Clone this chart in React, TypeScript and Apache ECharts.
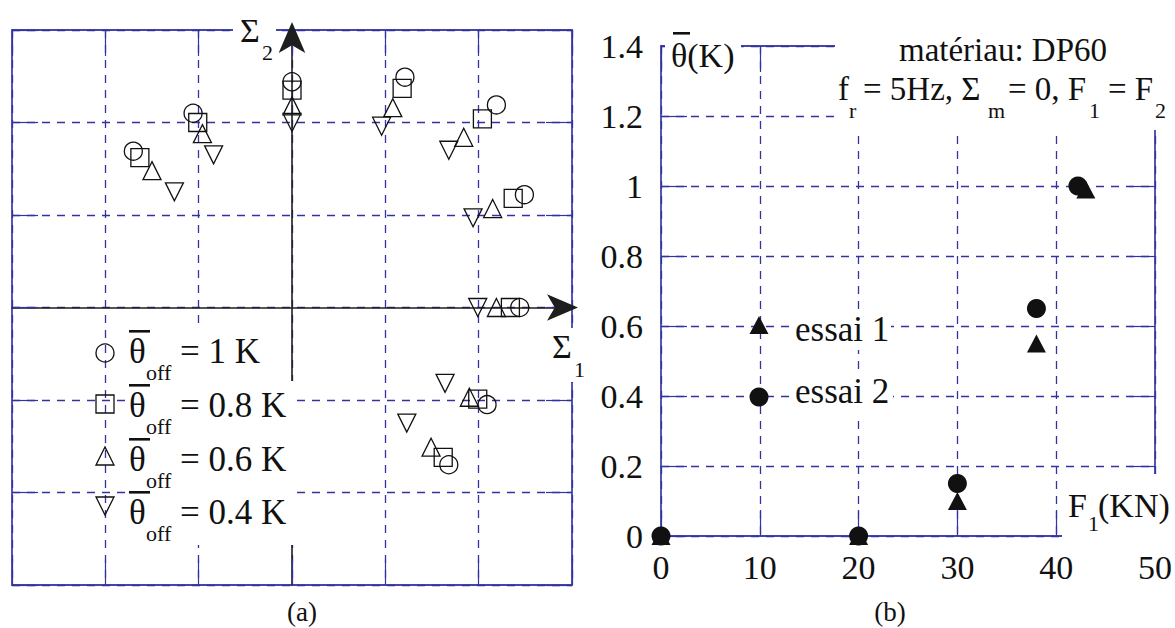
import React, { useEffect, useRef } from 'react';
import * as echarts from 'echarts';

// ---- Panel (a): loading directions in the (Σ1, Σ2) plane, one series per offset temperature ----
const off10X = [-1.70, -1.06, 0, 1.21, 2.19, 2.49, 2.44, 2.09, 1.68];
const off10Y = [1.69, 2.10, 2.44, 2.49, 2.19, 1.22, 0, -1.05, -1.70];
const off08X = [-1.63, -1.01, 0, 1.18, 2.04, 2.37, 2.34, 1.99, 1.62];
const off08Y = [1.62, 2.00, 2.35, 2.37, 2.04, 1.18, 0, -0.99, -1.62];
const off06X = [-1.50, -0.96, 0, 1.08, 1.84, 2.15, 2.19, 1.90, 1.49];
const off06Y = [1.48, 1.88, 2.18, 2.16, 1.84, 1.07, 0, -0.97, -1.51];
const off04X = [-1.26, -0.84, 0, 0.96, 1.68, 1.94, 1.99, 1.64, 1.23];
const off04Y = [1.25, 1.65, 2.00, 1.96, 1.70, 0.97, 0, -0.82, -1.25];
const offsetLabels = ['= 1 K', '= 0.8 K', '= 0.6 K', '= 0.4 K'];

// ---- Panel (b): mean temperature rise vs. force amplitude ----
const essai1F = [0, 20, 30, 38, 43];
const essai1Theta = [0, 0, 0.1, 0.55, 0.99];
const essai2F = [0, 20, 30, 38, 42.2];
const essai2Theta = [0, 0, 0.15, 0.65, 1.0];

const FONT = "'Liberation Serif', 'Times New Roman', serif";
const BLUE = '#3232a2';
const BORDER = '#4444ac';
const INK = '#111111';
const AXIS_INK = '#1e1e1e';

const zip = (xs: number[], ys: number[]) => xs.map((x, i) => [x, ys[i]]);

function frameAxis(
  dim: 'x' | 'y',
  gridIndex: number,
  position: string,
  min: number,
  max: number,
  interval: number,
  main: boolean
) {
  return {
    type: 'value',
    gridIndex,
    position,
    min,
    max,
    interval,
    axisLine: { show: false, onZero: false },
    axisTick: { show: true, inside: true, length: 26, lineStyle: { color: BLUE, width: 1.2 } },
    axisLabel: {
      show: main && gridIndex === 1,
      fontFamily: FONT,
      fontSize: 34,
      color: INK,
      margin: dim === 'y' ? 18 : 14,
    },
    splitLine: {
      show: main,
      lineStyle: { color: BLUE, width: 1.3, type: [8, 7] },
    },
  };
}

// Σ1 / Σ2 axes of panel (a): drawn through the origin, ending in an arrow
function sigmaAxis(position: string, arrowOffset: number) {
  return {
    type: 'value',
    gridIndex: 0,
    position,
    min: -3,
    max: 3,
    interval: 1,
    axisLine: {
      show: true,
      onZero: true,
      onZeroAxisIndex: 0,
      symbol: ['none', 'arrow'],
      symbolSize: [20, 31],
      symbolOffset: [0, arrowOffset],
      lineStyle: { color: AXIS_INK, width: 1.6 },
    },
    axisTick: { show: false },
    axisLabel: { show: false },
    splitLine: { show: false },
  };
}

function txt(text: string, x: number, baseline: number, size: number, align = 'left') {
  return {
    type: 'text',
    z: 110,
    x,
    y: baseline - 0.34 * size,
    style: { text, font: `${size}px ${FONT}`, fill: INK, align, verticalAlign: 'middle' },
  };
}

function white(x: number, y: number, width: number, height: number) {
  return { type: 'rect', z: 100, shape: { x, y, width, height }, style: { fill: '#ffffff' } };
}

function bar(x: number, y: number, width: number) {
  return { type: 'rect', z: 111, shape: { x, y, width, height: 2.6 }, style: { fill: INK } };
}

const hollow = { color: 'rgba(0,0,0,0)', borderColor: INK, borderWidth: 1.3, opacity: 1 };
const solid = { color: INK, opacity: 1 };
const hollowStyle = { fill: 'none', stroke: INK, lineWidth: 1.3 };

function buildOption() {
  const graphics: any[] = [];

  // Σ axis captions of panel (a)
  graphics.push(white(233, 12, 43, 50));
  graphics.push(txt('Σ', 240, 42, 34));
  graphics.push(txt('2', 262, 60, 22));
  graphics.push(white(548, 328, 36, 54));
  graphics.push(txt('Σ', 552, 358, 34));
  graphics.push(txt('1', 574, 377, 22));

  // legend of panel (a)
  const rows = [363, 417, 471, 524];
  const rights = [268, 297, 297, 297];
  rows.forEach((b, i) => {
    graphics.push(white(125, b - 36, rights[i] - 125, 57));
  });
  rows.forEach((b, i) => {
    graphics.push(bar(129, b - 33, 21));
    graphics.push(txt('θ', 129, b, 35));
    graphics.push(txt('off', 146, b + 17, 22));
    graphics.push(txt(offsetLabels[i], 180, b, 35));
  });
  const lx = 105;
  graphics.push({ type: 'circle', z: 111, shape: { cx: lx, cy: 353, r: 9 }, style: hollowStyle });
  graphics.push({ type: 'rect', z: 111, shape: { x: lx - 9, y: 395, width: 18, height: 18 }, style: hollowStyle });
  graphics.push({
    type: 'polygon', z: 111,
    shape: { points: [[lx - 9, 465], [lx, 447], [lx + 9, 465]] },
    style: hollowStyle,
  });
  graphics.push({
    type: 'polygon', z: 111,
    shape: { points: [[lx - 9, 497], [lx + 9, 497], [lx, 515]] },
    style: hollowStyle,
  });

  // panel (b) captions
  graphics.push(white(665, 24, 76, 52));
  graphics.push(bar(673, 32, 17));
  graphics.push(txt('θ(K)', 671, 67, 34));

  graphics.push(white(835, 16, 340, 114));
  graphics.push(txt('matériau: DP60', 1003, 61, 33, 'center'));
  graphics.push(txt('f', 838, 100, 33));
  graphics.push(txt('r', 849, 118, 22));
  graphics.push(txt('= 5Hz, Σ', 863, 100, 33));
  graphics.push(txt('m', 988, 118, 22));
  graphics.push(txt('= 0, F', 1008, 100, 33));
  graphics.push(txt('1', 1089, 118, 22));
  graphics.push(txt('= F', 1108, 100, 33));
  graphics.push(txt('2', 1155, 118, 22));

  graphics.push(white(1062, 474, 113, 72));
  graphics.push(txt('F', 1068, 517, 34));
  graphics.push(txt('1', 1088, 531, 22));
  graphics.push(txt('(KN)', 1098, 517, 34));

  // legend of panel (b)
  graphics.push(white(789, 310, 102, 40));
  graphics.push(white(789, 376, 104, 40));
  graphics.push(txt('essai 1', 795, 341, 35));
  graphics.push(txt('essai 2', 795, 403, 35));
  graphics.push({
    type: 'polygon', z: 111,
    shape: { points: [[749.5, 334], [759, 316], [768.5, 334]] },
    style: { fill: INK },
  });
  graphics.push({ type: 'circle', z: 111, shape: { cx: 759, cy: 397, r: 9.5 }, style: { fill: INK } });

  // panel letters
  graphics.push(txt('(a)', 302, 621, 27, 'center'));
  graphics.push(txt('(b)', 890, 621, 27, 'center'));

  return {
    animation: false,
    backgroundColor: '#ffffff',
    grid: [
      { left: 12, top: 30, width: 560, height: 555, show: true, borderColor: BORDER, borderWidth: 1.8, backgroundColor: 'transparent' },
      { left: 661, top: 46, width: 494, height: 490, show: true, borderColor: BORDER, borderWidth: 1.8, backgroundColor: 'transparent' },
    ],
    xAxis: [
      frameAxis('x', 0, 'bottom', -3, 3, 1, true),
      frameAxis('x', 0, 'top', -3, 3, 1, false),
      frameAxis('x', 1, 'bottom', 0, 50, 10, true),
      frameAxis('x', 1, 'top', 0, 50, 10, false),
      sigmaAxis('bottom', 6),
    ],
    yAxis: [
      frameAxis('y', 0, 'left', -3, 3, 1, true),
      frameAxis('y', 0, 'right', -3, 3, 1, false),
      frameAxis('y', 1, 'left', 0, 1.4, 0.2, true),
      frameAxis('y', 1, 'right', 0, 1.4, 0.2, false),
      sigmaAxis('left', 8),
    ],
    series: [
      {
        type: 'scatter', name: 'θoff = 1 K', xAxisIndex: 0, yAxisIndex: 0,
        symbol: 'circle', symbolSize: 18, itemStyle: hollow, data: zip(off10X, off10Y), z: 5,
      },
      {
        type: 'scatter', name: 'θoff = 0.8 K', xAxisIndex: 0, yAxisIndex: 0,
        symbol: 'rect', symbolSize: 18, itemStyle: hollow, data: zip(off08X, off08Y), z: 5,
      },
      {
        type: 'scatter', name: 'θoff = 0.6 K', xAxisIndex: 0, yAxisIndex: 0,
        symbol: 'triangle', symbolSize: 18, itemStyle: hollow, data: zip(off06X, off06Y), z: 5,
      },
      {
        type: 'scatter', name: 'θoff = 0.4 K', xAxisIndex: 0, yAxisIndex: 0,
        symbol: 'triangle', symbolRotate: 180, symbolSize: 18, itemStyle: hollow, data: zip(off04X, off04Y), z: 5,
      },
      {
        type: 'scatter', name: 'essai 1', xAxisIndex: 2, yAxisIndex: 2,
        symbol: 'triangle', symbolSize: [19, 18], itemStyle: solid,
        data: zip(essai1F, essai1Theta), z: 5,
      },
      {
        type: 'scatter', name: 'essai 2', xAxisIndex: 2, yAxisIndex: 2,
        symbol: 'circle', symbolSize: 19, itemStyle: solid,
        data: zip(essai2F, essai2Theta), z: 6,
      },
    ],
    graphic: graphics,
  };
}

export default function App() {
  const ref = useRef<HTMLDivElement>(null);
  useEffect(() => {
    const chart = echarts.init(ref.current as HTMLDivElement, null, { renderer: 'svg' });
    chart.setOption(buildOption() as any);
    return () => chart.dispose();
  }, []);
  return (
    <div
      ref={ref}
      style={{ position: 'fixed', left: 0, top: 0, width: 1175, height: 628, background: '#ffffff' }}
    />
  );
}
